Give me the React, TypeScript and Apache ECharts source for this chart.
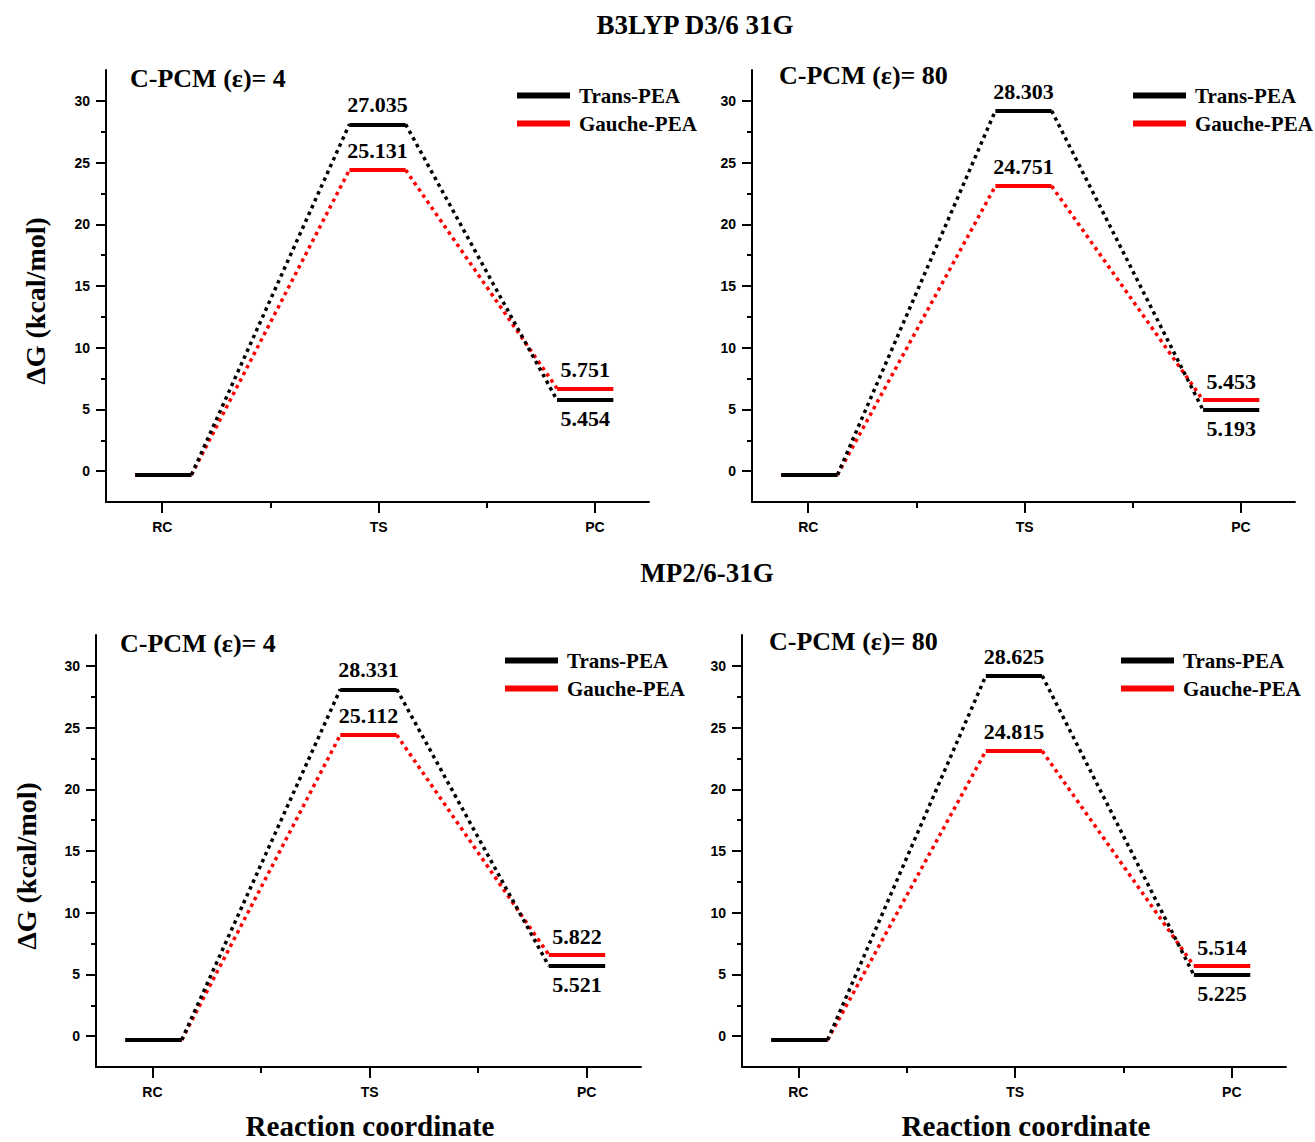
import React, { useEffect, useRef } from "react";
import * as echarts from "echarts";

// ---------- data ----------
const stages = ["RC", "TS", "PC"];
const stageX = [1, 2, 3];
const yTicks = [0, 5, 10, 15, 20, 25, 30];
const yMinorTicks = [2.5, 7.5, 12.5, 17.5, 22.5, 27.5];
const xMinorTicks = [1.5, 2.5];

const sectionTitles = ["B3LYP D3/6 31G", "MP2/6-31G"];
const panelTitles = ["C-PCM (ε)= 4", "C-PCM (ε)= 80", "C-PCM (ε)= 4", "C-PCM (ε)= 80"];
const seriesNames = ["Trans-PEA", "Gauche-PEA"];
const yAxisTitle = "ΔG (kcal/mol)";
const xAxisTitle = "Reaction coordinate";

// drawn energy levels (kcal/mol) RC, TS, PC
const transB3lyp4 = [-0.3, 28.1, 5.75];
const gaucheB3lyp4 = [-0.3, 24.4, 6.7];
const transB3lyp80 = [-0.3, 29.2, 4.95];
const gaucheB3lyp80 = [-0.3, 23.1, 5.75];
const transMp24 = [-0.3, 28.1, 5.7];
const gaucheMp24 = [-0.3, 24.4, 6.6];
const transMp280 = [-0.3, 29.2, 4.95];
const gaucheMp280 = [-0.3, 23.1, 5.7];

// annotated values (TS, PC)
const transB3lyp4Labels = ["27.035", "5.454"];
const gaucheB3lyp4Labels = ["25.131", "5.751"];
const transB3lyp80Labels = ["28.303", "5.193"];
const gaucheB3lyp80Labels = ["24.751", "5.453"];
const transMp24Labels = ["28.331", "5.521"];
const gaucheMp24Labels = ["25.112", "5.822"];
const transMp280Labels = ["28.625", "5.225"];
const gaucheMp280Labels = ["24.815", "5.514"];

// ---------- layout ----------
const SERIF = "'Liberation Serif', 'Times New Roman', serif";
const SANS = "'Liberation Sans', Arial, sans-serif";
const RED = "#ff0000";
const BLACK = "#000000";

const panels = [
  { grid: { left: 106, top: 70, width: 543, height: 432 }, trans: transB3lyp4, gauche: gaucheB3lyp4, tl: transB3lyp4Labels, gl: gaucheB3lyp4Labels, legend: { left: 517, top: 85 }, title: { x: 130, y: 78 } },
  { grid: { left: 752, top: 70, width: 543, height: 432 }, trans: transB3lyp80, gauche: gaucheB3lyp80, tl: transB3lyp80Labels, gl: gaucheB3lyp80Labels, legend: { left: 1133, top: 85 }, title: { x: 779, y: 75 } },
  { grid: { left: 96, top: 635, width: 545, height: 432 }, trans: transMp24, gauche: gaucheMp24, tl: transMp24Labels, gl: gaucheMp24Labels, legend: { left: 505, top: 650 }, title: { x: 120, y: 643 } },
  { grid: { left: 742, top: 635, width: 544, height: 432 }, trans: transMp280, gauche: gaucheMp280, tl: transMp280Labels, gl: gaucheMp280Labels, legend: { left: 1121, top: 650 }, title: { x: 769, y: 641 } },
];

const levelShift = [0.005, -0.005, -0.045];
const halfW = 0.13;

function buildOption() {
  const grids: any[] = [];
  const xAxes: any[] = [];
  const yAxes: any[] = [];
  const series: any[] = [];
  const legends: any[] = [];
  const graphics: any[] = [];

  panels.forEach((p, pi) => {
    grids.push({ ...p.grid, containLabel: false, outerBoundsMode: "none" });
    const xi = pi * 2;
    const yi = pi * 2;
    xAxes.push({
      type: "value", gridIndex: pi, min: 0.74, max: 3.25, position: "bottom",
      axisLine: { onZero: false, lineStyle: { color: BLACK, width: 2 } },
      axisTick: { show: true, customValues: stageX, length: 11, inside: false, lineStyle: { color: BLACK, width: 2 } },
      axisLabel: { customValues: stageX, margin: 18, color: "#000", fontFamily: SANS, fontWeight: "bold", fontSize: 14,
        formatter: (v: number) => stages[stageX.indexOf(Math.round(v))] ?? "" },
      splitLine: { show: false },
    });
    xAxes.push({
      type: "value", gridIndex: pi, min: 0.74, max: 3.25, position: "bottom", offset: 0,
      axisLine: { show: false, onZero: false },
      axisTick: { show: true, customValues: xMinorTicks, length: 6, lineStyle: { color: BLACK, width: 2 } },
      axisLabel: { show: false },
      splitLine: { show: false },
    });
    yAxes.push({
      type: "value", gridIndex: pi, min: -2.5, max: 32.5, interval: 2.5, position: "left",
      axisLine: { show: true, onZero: false, lineStyle: { color: BLACK, width: 2 } },
      axisTick: { show: true, customValues: yTicks, length: 10, lineStyle: { color: BLACK, width: 2 } },
      axisLabel: { customValues: yTicks, margin: 16, color: "#000", fontFamily: SANS, fontWeight: "bold", fontSize: 14 },
      splitLine: { show: false },
    });
    yAxes.push({
      type: "value", gridIndex: pi, min: -2.5, max: 32.5, interval: 2.5, position: "left", offset: 0,
      axisLine: { show: false, onZero: false },
      axisTick: { show: true, customValues: yMinorTicks, length: 5, lineStyle: { color: BLACK, width: 2 } },
      axisLabel: { show: false },
      splitLine: { show: false },
    });

    const confs = [
      { name: seriesNames[1], vals: p.gauche, labels: p.gl, color: RED, pcPos: "top" },
      { name: seriesNames[0], vals: p.trans, labels: p.tl, color: BLACK, pcPos: "bottom" },
    ];
    confs.forEach((c) => {
      const cx = stageX.map((x, i) => x + levelShift[i]);
      const connectors = [0, 1].map((i) => ({
        coords: [[cx[i] + halfW, c.vals[i]], [cx[i + 1] - halfW, c.vals[i + 1]]],
      }));
      series.push({
        type: "lines", name: c.name, coordinateSystem: "cartesian2d", xAxisIndex: xi, yAxisIndex: yi,
        data: connectors, silent: true,
        lineStyle: { color: c.color, width: 3.5, type: [3.5, 4], opacity: 1 },
      });
      const levels = c.vals.map((v, i) => ({ coords: [[cx[i] - halfW, v], [cx[i] + halfW, v]] }));
      series.push({
        type: "lines", name: c.name, coordinateSystem: "cartesian2d", xAxisIndex: xi, yAxisIndex: yi,
        data: levels, silent: true,
        lineStyle: { color: c.color, width: 4, type: "solid", opacity: 1 },
      });
      series.push({
        type: "scatter", name: c.name, xAxisIndex: xi, yAxisIndex: yi, symbolSize: 1, silent: true,
        itemStyle: { color: c.color, opacity: 0 },
        data: [
          { value: [cx[1], c.vals[1]], label: { position: "top", distance: 8, formatter: c.labels[0] } },
          { value: [cx[2], c.vals[2]], label: { position: c.pcPos, distance: 7, formatter: c.labels[1] } },
        ],
        label: { show: true, color: "#000", opacity: 1, textBorderWidth: 0, fontFamily: SERIF, fontWeight: "bold", fontSize: 22 },
      });
    });

    legends.push({
      orient: "vertical", left: p.legend.left, top: p.legend.top, padding: 0,
      itemWidth: 51, itemHeight: 4, itemGap: 7, selectedMode: false,
      textStyle: { color: BLACK, fontFamily: SERIF, fontWeight: "bold", fontSize: 21, padding: [0, 0, 0, 5] },
      data: [
        { name: seriesNames[0], icon: "rect", itemStyle: { color: BLACK } },
        { name: seriesNames[1], icon: "rect", itemStyle: { color: RED } },
      ],
    });

    graphics.push({
      type: "text", x: p.title.x, y: p.title.y,
      style: { text: panelTitles[pi], font: `bold 26px ${SERIF}`, fill: BLACK, textAlign: "left", textVerticalAlign: "middle" },
    });
  });

  graphics.push({ type: "text", x: 695, y: 25, style: { text: sectionTitles[0], font: `bold 27px ${SERIF}`, fill: BLACK, textAlign: "center", textVerticalAlign: "middle" } });
  graphics.push({ type: "text", x: 707, y: 573, style: { text: sectionTitles[1], font: `bold 27px ${SERIF}`, fill: BLACK, textAlign: "center", textVerticalAlign: "middle" } });
  graphics.push({ type: "text", x: 35, y: 301, rotation: Math.PI / 2, style: { text: yAxisTitle, font: `bold 28px ${SERIF}`, fill: BLACK, textAlign: "center", textVerticalAlign: "middle" } });
  graphics.push({ type: "text", x: 26, y: 866, rotation: Math.PI / 2, style: { text: yAxisTitle, font: `bold 28px ${SERIF}`, fill: BLACK, textAlign: "center", textVerticalAlign: "middle" } });
  graphics.push({ type: "text", x: 370, y: 1126, style: { text: xAxisTitle, font: `bold 29px ${SERIF}`, fill: BLACK, textAlign: "center", textVerticalAlign: "middle" } });
  graphics.push({ type: "text", x: 1026, y: 1126, style: { text: xAxisTitle, font: `bold 29px ${SERIF}`, fill: BLACK, textAlign: "center", textVerticalAlign: "middle" } });

  return {
    animation: false,
    backgroundColor: "#ffffff",
    grid: grids,
    xAxis: xAxes,
    yAxis: yAxes,
    legend: legends,
    series,
    graphic: graphics,
  };
}

export default function App() {
  const ref = useRef<HTMLDivElement>(null);
  useEffect(() => {
    if (!ref.current) return;
    const chart = echarts.init(ref.current, undefined, { renderer: "svg" });
    chart.setOption(buildOption() as any);
    return () => chart.dispose();
  }, []);
  return (
    <div
      ref={ref}
      style={{ position: "absolute", left: 0, top: 0, width: 1315, height: 1142, background: "#fff" }}
    />
  );
}
